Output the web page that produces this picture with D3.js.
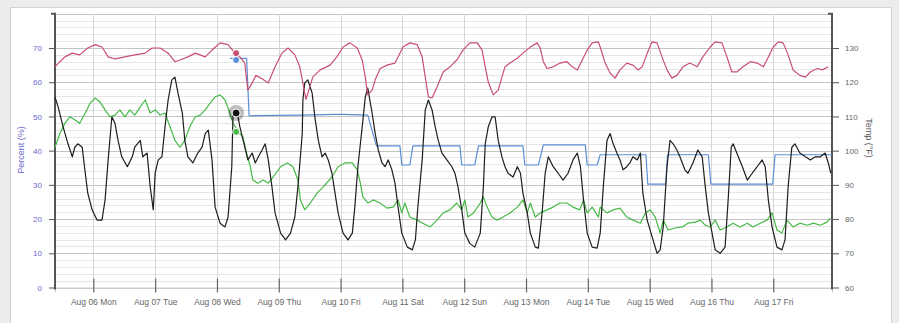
<!DOCTYPE html>
<html><head><meta charset="utf-8">
<script src="https://cdn.jsdelivr.net/npm/d3@7"></script>
<style>body{margin:0;background:#ececec;}svg{display:block;font-family:"Liberation Sans",Arial,sans-serif;}</style>
</head><body><svg id="c" width="899" height="323"></svg>
<script>
// ---- data (day offsets from Aug 06 2018 00:00, values in %) ----
const baseDate = Date.UTC(2018, 7, 6);
const dayTicks = [0,1,2,3,4,5,6,7,8,9,10,11];
const leftTicks = [0,10,20,30,40,50,60,70];
const rightTicks = [60,70,80,90,100,110,120,130];

const redDays = [-0.62,-0.54,-0.46,-0.34,-0.22,-0.09,0.03,0.14,0.24,0.35,0.51,0.67,0.84,0.95,1.08,1.21,1.32,1.40,1.53,1.65,1.81,1.92,2.05,2.18,2.29,2.37,2.45,2.50,2.57,2.63,2.73,2.83,2.94,3.05,3.15,3.26,3.34,3.44,3.55,3.67,3.83,3.94,4.04,4.15,4.27,4.35,4.40,4.44,4.51,4.56,4.64,4.75,4.88,4.93,5.01,5.12,5.24,5.32,5.37,5.42,5.48,5.56,5.66,5.77,5.88,5.98,6.09,6.21,6.29,6.34,6.39,6.47,6.55,6.61,6.66,6.74,6.86,6.95,7.07,7.18,7.23,7.28,7.34,7.44,7.55,7.66,7.75,7.83,7.91,7.99,8.07,8.17,8.20,8.28,8.36,8.44,8.52,8.63,8.73,8.81,8.88,8.96,9.04,9.12,9.20,9.28,9.36,9.44,9.54,9.65,9.77,9.86,9.98,10.06,10.17,10.25,10.33,10.41,10.51,10.63,10.74,10.84,10.92,11.00,11.08,11.16,11.24,11.32,11.43,11.52,11.60,11.71,11.79,11.89];
const redValues = [64.5,66,67.4,68.5,68,70,71,70.3,67.4,66.8,67.4,68,68.5,70,70,68.5,66,66.5,67.4,68.5,67.4,69.4,71.5,71,68.5,67.4,65.6,57.7,59.8,62,61,59.8,64.5,68.5,70,68,64.5,55,61.5,63.6,65,67.4,70.3,71.5,70,66.5,61.5,56.3,57.7,60.7,64,65,65.6,67.4,70.3,71.5,71,67.4,61.5,55.7,55.4,58.6,63,64.5,66.5,69.4,71.5,71.5,69.4,64.5,60,56.3,57.7,61.5,64.5,65.6,67,68.5,70.3,71.5,70,66,64,64.5,65.6,66,64.5,63.6,66.5,69.4,71.5,71.8,70.3,65.6,62.7,61.2,63.6,65.6,65,63.6,64.5,68.5,71.8,71.5,67.4,63.6,61.2,62,64.5,65.6,64.5,67.4,70.3,71.8,71.5,67.4,63,63,64.5,66,65.6,64.5,67.4,70.3,71.8,71.5,68,63.6,62,61.5,63,64,63.6,64.5];

const blackDays = [-0.62,-0.57,-0.49,-0.41,-0.34,-0.30,-0.25,-0.18,-0.13,-0.09,-0.02,0.06,0.14,0.19,0.24,0.30,0.35,0.40,0.46,0.55,0.63,0.67,0.76,0.80,0.87,0.92,0.97,1.00,1.05,1.11,1.16,1.21,1.27,1.32,1.37,1.44,1.48,1.53,1.61,1.69,1.76,1.81,1.86,1.92,1.97,2.05,2.13,2.18,2.24,2.26,2.33,2.37,2.45,2.50,2.57,2.62,2.67,2.73,2.78,2.83,2.89,2.94,3.03,3.11,3.19,3.26,3.31,3.38,3.39,3.42,3.47,3.54,3.59,3.64,3.70,3.75,3.80,3.86,3.91,3.96,4.04,4.12,4.19,4.23,4.28,4.35,4.40,4.44,4.51,4.56,4.61,4.67,4.72,4.77,4.83,4.88,4.93,4.99,5.08,5.16,5.21,5.25,5.32,5.37,5.42,5.48,5.53,5.58,5.64,5.72,5.80,5.85,5.90,5.96,6.01,6.09,6.17,6.26,6.31,6.34,6.39,6.45,6.50,6.55,6.61,6.66,6.71,6.79,6.86,6.91,6.95,7.02,7.07,7.15,7.20,7.26,7.31,7.36,7.44,7.52,7.60,7.68,7.76,7.83,7.88,7.93,7.99,8.07,8.15,8.20,8.25,8.31,8.36,8.41,8.47,8.52,8.57,8.63,8.68,8.73,8.80,8.85,8.89,8.96,9.04,9.12,9.17,9.22,9.28,9.33,9.38,9.44,9.49,9.57,9.62,9.70,9.78,9.85,9.90,9.95,10.01,10.06,10.14,10.22,10.27,10.32,10.35,10.41,10.50,10.58,10.66,10.74,10.82,10.87,10.92,10.98,11.06,11.14,11.19,11.24,11.30,11.35,11.43,11.52,11.60,11.68,11.76,11.84,11.89,11.93];
const blackValues = [55.7,52.8,47,42,38.2,41,42,41,33.4,27.6,22.7,19.7,19.7,25.6,37.3,49.9,48,43,38.2,35.3,38.2,41,43,38.2,39.3,29.4,22.7,33.4,37.3,38.2,47,54.8,60.7,61.5,56.8,51,43,38.2,36.4,39.3,41,45,46,37.3,23.5,18.8,17.7,20.6,35.3,51,51,47,41,37.3,39.3,36.4,38.2,40.2,42,37.3,29.4,21.8,15.9,13.9,15.9,20.6,29.4,45,54.8,59.8,60.7,56.8,49,43,38.2,39.3,37.3,33.4,27.6,21.8,15.9,13.9,15.9,23.5,35.3,47,55.7,58.3,51,45,40.2,36.4,35.3,37.3,34.4,30.5,23.5,15.9,11.8,11,13.9,23.5,37.3,51.9,54.8,51.9,47,43,39.3,37.3,35.3,33.4,29.4,22.7,15.9,12.9,11.8,15.9,29.4,42,47,49.9,49.9,43,38.2,35.3,33.4,32.3,35.3,33.4,27.6,21.8,15.9,11.8,11.5,21.8,33.4,38.2,35.3,33.4,31.4,33.4,37.3,39.3,35.3,25.6,15.9,11.8,11.5,15.9,29.4,43,45,42,39.3,37.3,34.4,35.3,36.4,38.2,37.3,39.3,27.6,19.7,14.8,10,11,17.7,35.3,43,42,40.2,38.2,34.4,33.4,36.4,40.2,38.2,29.4,21.8,15.9,11,10,11.8,25.6,41,42,39.3,35.3,31.4,33.4,35.3,37.3,35.3,25.6,17.7,11.8,11,13.9,29.4,41,42,39.3,38.2,37.3,38.2,38.2,39.3,36.4,33.4];

const greenDays = [-0.62,-0.54,-0.46,-0.38,-0.30,-0.22,-0.13,-0.05,0.03,0.11,0.19,0.27,0.35,0.43,0.51,0.59,0.67,0.76,0.84,0.92,1.00,1.08,1.16,1.24,1.32,1.40,1.48,1.56,1.65,1.73,1.81,1.89,1.97,2.05,2.13,2.21,2.26,2.33,2.37,2.42,2.48,2.54,2.58,2.66,2.75,2.83,2.91,3.03,3.14,3.23,3.31,3.35,3.42,3.51,3.62,3.72,3.86,3.96,4.07,4.19,4.27,4.32,4.36,4.44,4.53,4.64,4.75,4.85,4.93,4.99,5.04,5.12,5.24,5.33,5.45,5.56,5.66,5.77,5.88,5.96,6.01,6.06,6.15,6.26,6.31,6.37,6.45,6.53,6.63,6.74,6.86,6.95,7.02,7.07,7.15,7.23,7.34,7.44,7.55,7.66,7.76,7.87,7.93,7.99,8.07,8.17,8.20,8.31,8.41,8.52,8.63,8.73,8.85,8.93,9.01,9.09,9.17,9.22,9.30,9.41,9.53,9.62,9.74,9.82,9.90,9.98,10.06,10.14,10.25,10.35,10.46,10.58,10.67,10.79,10.90,10.98,11.06,11.14,11.22,11.32,11.43,11.55,11.65,11.76,11.87,11.92];
const greenValues = [41,45,48,49.9,49,48,51,53.9,55.4,54.2,51.9,49.9,50.4,51.9,49.9,51.9,50.4,52.8,54.8,51,51.9,50.4,51,47,43,41,43,47,49.9,50.4,51.9,53.9,55.7,56.3,54.8,51,48,46,45,44,39.3,35.3,31.4,30.5,31.4,30.5,32.3,35.3,36.4,35.3,31.4,25.6,22.7,24.7,27.6,29.4,32.3,35.3,36.4,36.4,34.4,30.5,26.5,24.7,25.6,24.7,23.2,23.5,25.6,21.8,24.7,20.6,19.7,18.8,17.7,19.7,21.8,22.7,24.7,22.7,25.6,20.6,21.8,24.7,26.5,23.5,20.6,19.7,20.6,21.8,23.5,25.6,21.8,24.7,20.6,21.8,22.7,23.5,24.7,24.7,23.5,22.7,25.6,21.8,23.5,20.6,23.5,21.8,22.7,23.2,20.6,19.7,18.8,21.8,22.7,20.6,15.9,19.7,16.8,17.4,17.7,18.8,19.1,19.7,18.2,17.7,19.7,16.8,17.7,18.8,17.7,18.8,17.7,18.8,19.7,21.8,16.8,15.9,19.7,17.7,18.8,18.2,18.8,18.2,19.1,20.3];

const blueDays = [2.21,2.48,2.52,3.34,3.91,4.04,4.44,4.58,4.96,4.99,5.12,5.17,5.93,5.96,6.17,6.23,6.95,6.98,7.20,7.28,7.96,7.99,8.15,8.20,8.94,8.97,9.26,9.29,9.95,9.99,10.99,11.03,11.95];
const blueValues = [67,67,50.2,50.4,50.6,50.6,50.4,41.4,41.4,35.8,35.8,41.4,41.4,35.8,35.8,41.4,41.4,35.8,35.8,41.7,41.7,35.8,35.8,38.8,38.8,30.2,30.2,38.8,38.8,30.2,30.2,38.8,38.8];

// highlighted (hovered) point
const hoverDay = 2.31;
const hoverValues = {red: 68.5, blue: 66.5, black: 51, green: 45.5};

// ---- drawing ----
const svg = d3.select("#c");
const toDate = d => new Date(baseDate + d * 86400000);
const x = d3.scaleUtc().domain([toDate(-0.62), toDate(11.95)]).range([55, 832]);
const y = d3.scaleLinear().domain([0, 80]).range([287.5, 13.8]);
const yR = d3.scaleLinear().domain([60, 140]).range([287.5, 13.8]);

svg.append("rect").attr("x", 10.5).attr("y", 7.5).attr("width", 881).attr("height", 320)
  .attr("fill", "#fff").attr("stroke", "#d4d4d4");

// horizontal grid
const gridVals = d3.range(0, 81, 2);
svg.append("g").selectAll("line").data(gridVals).join("line")
  .attr("x1", 55).attr("x2", 832)
  .attr("y1", d => Math.round(y(d)) + 0.5).attr("y2", d => Math.round(y(d)) + 0.5)
  .attr("stroke", d => d % 10 === 0 ? "#c4c4c4" : "#e6e6e6").attr("stroke-width", 1);

// vertical grid
svg.append("g").selectAll("line").data(dayTicks).join("line")
  .attr("x1", d => Math.round(x(toDate(d))) + 0.5).attr("x2", d => Math.round(x(toDate(d))) + 0.5)
  .attr("y1", 14).attr("y2", 287.5).attr("stroke", "#d6d6d6");

// x axis
const fmt = d3.utcFormat("%b %d %a");
const xAxis = d3.axisBottom(x).tickValues(dayTicks.map(toDate)).tickFormat(fmt).tickSize(5).tickPadding(6);
const gx = svg.append("g").attr("transform", "translate(0,287.5)").call(xAxis);
gx.select(".domain").attr("stroke", "#cfcfcf");
gx.selectAll(".tick line").attr("y1", -9).attr("y2", 5).attr("stroke", "#666").attr("stroke-width", 1.2);
gx.selectAll(".tick text").attr("fill", "#666").attr("font-size", "8.5px").attr("font-family", "Liberation Sans, Arial, sans-serif");

// left axis
const yAxis = d3.axisLeft(y).tickValues(leftTicks).tickSize(6).tickPadding(7);
const gy = svg.append("g").attr("transform", "translate(55,0)").call(yAxis);
gy.select(".domain").attr("stroke", "#555").attr("stroke-width", 2).attr("d", `M-4,${y(80)}H0V${y(0)+2}`);
gy.selectAll(".tick line").attr("x1", -6).attr("x2", 1).attr("stroke", "#555");
gy.selectAll(".tick text").attr("fill", "#6a6acf").attr("font-size", "8px").attr("font-family", "Liberation Sans, Arial, sans-serif");

// right axis
const yAxisR = d3.axisRight(yR).tickValues(rightTicks).tickSize(6).tickPadding(7);
const gyR = svg.append("g").attr("transform", "translate(832,0)").call(yAxisR);
gyR.select(".domain").attr("stroke", "#555").attr("stroke-width", 2).attr("d", `M-4,${y(80)}H0V${y(0)+2}`);
gyR.selectAll(".tick line").attr("x1", -1).attr("x2", 7).attr("stroke", "#555");
gyR.selectAll(".tick text").attr("fill", "#666").attr("font-size", "8px").attr("font-family", "Liberation Sans, Arial, sans-serif");

// axis titles
svg.append("text").attr("transform", "translate(24,150) rotate(-90)").attr("text-anchor", "middle")
  .attr("fill", "#6a6acf").attr("font-size", "9px").text("Percent (%)");
svg.append("text").attr("transform", "translate(866,138) rotate(90)").attr("text-anchor", "middle")
  .attr("fill", "#555").attr("font-size", "9px").text("Temp (°F)");

// lines
const line = d3.line().x(p => x(toDate(p[0]))).y(p => y(p[1]));
const zip = (a, b) => a.map((d, i) => [d, b[i]]);
const series = [
  {days: greenDays, vals: greenValues, color: "#46b946"},
  {days: blueDays, vals: blueValues, color: "#5a8fd8"},
  {days: blackDays, vals: blackValues, color: "#1e1e1e"},
  {days: redDays, vals: redValues, color: "#c94f72"}
];
const plot = svg.append("g");
series.forEach(s => {
  plot.append("path").datum(zip(s.days, s.vals)).attr("d", line)
    .attr("fill", "none").attr("stroke", s.color).attr("stroke-width", 1.2).attr("stroke-linejoin", "round");
});

// hover markers
const hx = x(toDate(hoverDay));
plot.append("circle").attr("cx", hx).attr("cy", y(hoverValues.black)).attr("r", 8).attr("fill", "#000").attr("fill-opacity", 0.25);
plot.append("circle").attr("cx", hx).attr("cy", y(hoverValues.black)).attr("r", 4).attr("fill", "#111").attr("stroke", "#fff").attr("stroke-width", 1);
plot.append("circle").attr("cx", hx).attr("cy", y(hoverValues.green)).attr("r", 3.5).attr("fill", "#46b946").attr("stroke", "#fff").attr("stroke-width", 1);
plot.append("circle").attr("cx", hx).attr("cy", y(hoverValues.blue)).attr("r", 3.5).attr("fill", "#5a8fd8").attr("stroke", "#fff").attr("stroke-width", 1);
plot.append("circle").attr("cx", hx).attr("cy", y(hoverValues.red)).attr("r", 3.5).attr("fill", "#c94f72").attr("stroke", "#fff").attr("stroke-width", 1);
</script></body></html>
